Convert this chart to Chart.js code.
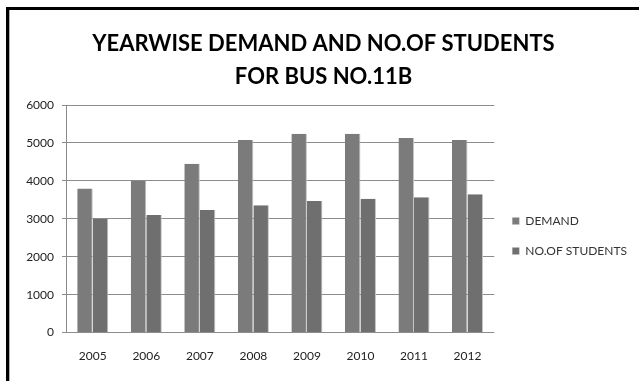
<!DOCTYPE html>
<html>
<head>
<meta charset="utf-8">
<script src="https://cdn.jsdelivr.net/npm/chart.js@4/dist/chart.umd.min.js"></script>
<style>
html,body{margin:0;padding:0;background:#fff;}
#wrap{position:absolute;left:0;top:0;width:639px;height:381px;}
</style>
</head>
<body>
<div id="wrap"><canvas id="c" width="639" height="381"></canvas></div>
<script>
const titleLines = ["YEARWISE DEMAND AND NO.OF STUDENTS", "FOR BUS NO.11B"];
const categories = ["2005", "2006", "2007", "2008", "2009", "2010", "2011", "2012"];
const demand = [3800, 4000, 4450, 5080, 5240, 5240, 5130, 5080];
const students = [3000, 3100, 3230, 3360, 3470, 3530, 3570, 3650];
const seriesNames = ["DEMAND", "NO.OF STUDENTS"];
const yTicks = [0, 1000, 2000, 3000, 4000, 5000, 6000];

const framePlugin = {
  id: 'frame',
  afterDraw(chart) {
    const ctx = chart.ctx;
    ctx.save();
    ctx.fillStyle = '#000';
    ctx.fillRect(6, 7, 633, 3);
    ctx.fillRect(6, 7, 3, 374);
    ctx.fillStyle = '#b0b0b0';
    ctx.fillRect(9, 10, 1, 371);
    ctx.restore();
  }
};

new Chart(document.getElementById('c'), {
  type: 'bar',
  data: {
    labels: categories,
    datasets: [
      {label: seriesNames[0], data: demand, backgroundColor: '#7b7b7b', borderColor: '#c4c4c4', borderWidth: {right: 1, left: 0, top: 0, bottom: 0}, borderSkipped: false},
      {label: seriesNames[1], data: students, backgroundColor: '#6f6f6f', borderColor: '#c4c4c4', borderWidth: {right: 1, left: 0, top: 0, bottom: 0}, borderSkipped: false}
    ]
  },
  options: {
    responsive: false,
    animation: false,
    devicePixelRatio: 1,
    layout: {padding: {left: 10, right: 2, top: 27, bottom: 10}},
    datasets: {bar: {barPercentage: 1.0, categoryPercentage: 0.58}},
    plugins: {
      title: {
        display: true,
        text: titleLines,
        color: '#000',
        font: {family: 'Lato', size: 22, weight: 'bold', lineHeight: 1.5},
        padding: {top: 0, bottom: 12}
      },
      legend: {
        position: 'right',
        align: 'center',
        title: {display: true, text: ' ', font: {size: 4, lineHeight: 1}, padding: {top: 70, bottom: 0}},
        labels: {
          color: '#333',
          font: {family: 'Lato', size: 12},
          boxWidth: 7, boxHeight: 7,
          padding: 18,
          useBorderRadius: false
        }
      },
      tooltip: {enabled: false}
    },
    scales: {
      x: {
        grid: {display: false},
        border: {display: false},
        ticks: {color: '#222', font: {family: 'Lato', size: 12}, padding: 8}
      },
      y: {
        min: 0, max: 6000,
        afterBuildTicks(s) { s.ticks = yTicks.map(v => ({value: v})); },
        afterFit(s) { s.width = 56; },
        grid: {color: '#8c8c8c', lineWidth: 1, tickLength: 4, drawTicks: true},
        border: {display: true, color: '#8c8c8c'},
        ticks: {color: '#222', font: {family: 'Lato', size: 12}, padding: 8, callback: v => String(v)}
      }
    }
  },
  plugins: [framePlugin]
});
</script>
</body>
</html>
